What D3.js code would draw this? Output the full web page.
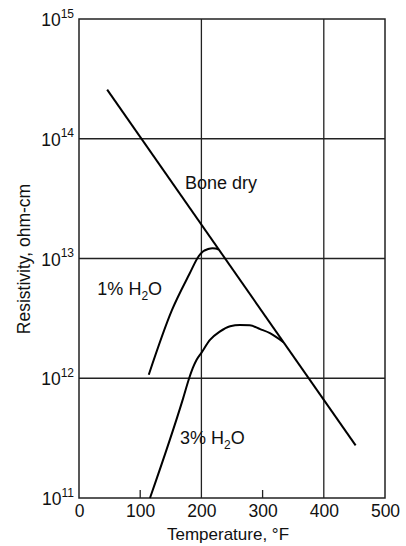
<!DOCTYPE html>
<html><head><meta charset="utf-8">
<script src="https://cdn.jsdelivr.net/npm/d3@7"></script>
<style>
html,body{margin:0;padding:0;background:#fff;}
svg text{font-family:"Liberation Sans",Arial,Helvetica,sans-serif;fill:#111;}
</style></head>
<body><svg id="c" width="406" height="546"></svg>
<script>
// ---- data ----
const xTicks = [0, 100, 200, 300, 400, 500];
const yTickExps = [11, 12, 13, 14, 15];
const xGrid = [200, 400];
const yGrid = [1e12, 1e13, 1e14];
const xInnerTicks = [100, 300];

const boneDryT = [46, 452];
const boneDryR = [2.57e14, 2.75e11];

const h2o1T = [114, 152, 181, 195, 203, 211, 218, 223, 228];
const h2o1R = [1.07e12, 3.72e12, 7.52e12, 1.035e13, 1.15e13, 1.2e13, 1.22e13, 1.21e13, 1.19e13];

const h2o3T = [116, 170, 180, 186, 192, 200, 214, 230, 247, 263, 279, 296, 312, 334];
const h2o3R = [1.0e11, 6.76e11, 1.0e12, 1.22e12, 1.42e12, 1.63e12, 2.09e12, 2.45e12, 2.72e12, 2.79e12, 2.77e12, 2.57e12, 2.38e12, 2.0e12];

const labels = [
  {text: "Bone dry", t: 173, r: 3.78e13, sub: null},
  {text: "1% H", t: 30, r: 4.91e12, sub: "2", tail: "O"},
  {text: "3% H", t: 165, r: 2.82e11, sub: "2", tail: "O"}
];

// ---- chart ----
const svg = d3.select("#c");
const x = d3.scaleLinear().domain([0, 500]).range([79, 385]);
const y = d3.scaleLog().domain([1e11, 1e15]).range([498, 19]);
const ink = "#222";

// gridlines
svg.append("g").selectAll("line").data(yGrid).join("line")
  .attr("x1", x(0)).attr("x2", x(500))
  .attr("y1", d => y(d)).attr("y2", d => y(d))
  .attr("stroke", ink).attr("stroke-width", 1.3);
svg.append("g").selectAll("line").data(xGrid).join("line")
  .attr("y1", y(1e11)).attr("y2", y(1e15))
  .attr("x1", d => x(d)).attr("x2", d => x(d))
  .attr("stroke", ink).attr("stroke-width", 1.3);

// frame
svg.append("rect").attr("x", x(0)).attr("y", y(1e15))
  .attr("width", x(500) - x(0)).attr("height", y(1e11) - y(1e15))
  .attr("fill", "none").attr("stroke", ink).attr("stroke-width", 1.5);

// bottom axis (labels) + inner ticks
const xAxis = d3.axisBottom(x).tickValues(xTicks).tickSize(0).tickPadding(7);
const gx = svg.append("g").attr("transform", `translate(0,${y(1e11)})`).call(xAxis);
gx.select(".domain").remove();
gx.selectAll("text").attr("font-size", 17.5).style("fill", "#111")
  .attr("font-family", "Liberation Sans, Arial, sans-serif");
svg.append("g").selectAll("line").data(xInnerTicks).join("line")
  .attr("x1", d => x(d)).attr("x2", d => x(d))
  .attr("y1", y(1e11)).attr("y2", y(1e11) - 8)
  .attr("stroke", ink).attr("stroke-width", 1.3);

// y tick labels 10^n
const yl = svg.append("g").selectAll("text").data(yTickExps).join("text")
  .attr("x", 74).attr("y", d => y(Math.pow(10, d)) + 7)
  .attr("text-anchor", "end");
yl.append("tspan").attr("font-size", 17.5).text("10");
yl.append("tspan").attr("font-size", 12).attr("dy", -8.5).text(d => d);

// lines
const line = d3.line().x(d => x(d[0])).y(d => y(d[1])).curve(d3.curveMonotoneX);
const series = [
  d3.zip(boneDryT, boneDryR),
  d3.zip(h2o1T, h2o1R),
  d3.zip(h2o3T, h2o3R)
];
svg.append("g").selectAll("path").data(series).join("path")
  .attr("d", line).attr("fill", "none").attr("stroke", "#000")
  .attr("stroke-width", 2).attr("stroke-linejoin", "round");

// series labels
const lt = svg.append("g").selectAll("text").data(labels).join("text")
  .attr("x", d => x(d.t)).attr("y", d => y(d.r))
  .attr("font-size", 18);
lt.append("tspan").text(d => d.text);
lt.filter(d => d.sub).append("tspan").attr("font-size", 12).attr("dy", 5).text(d => d.sub);
lt.filter(d => d.sub).append("tspan").attr("dy", -5).text(d => d.tail);

// axis titles
svg.append("text").attr("x", 228).attr("y", 540).attr("text-anchor", "middle")
  .attr("font-size", 17).text("Temperature, °F");
svg.append("text").attr("transform", "translate(30,259) rotate(-90)")
  .attr("text-anchor", "middle").attr("font-size", 17.5).text("Resistivity, ohm-cm");
</script></body></html>
